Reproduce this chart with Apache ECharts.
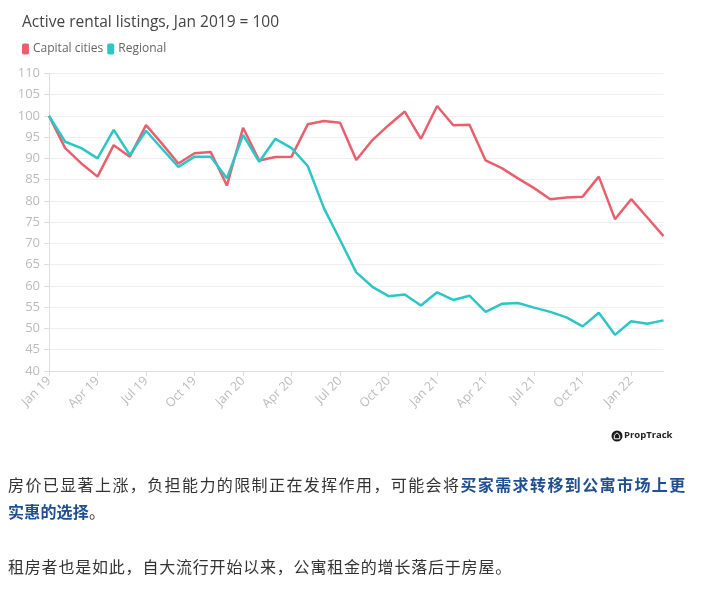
<!DOCTYPE html>
<html>
<head>
<meta charset="utf-8">
<script src="https://cdn.jsdelivr.net/npm/echarts@6/dist/echarts.min.js"></script>
<style>
html,body{margin:0;padding:0;background:#fff;width:708px;height:595px;overflow:hidden;}
#chart{position:absolute;left:0;top:0;width:708px;height:595px;}
.p{position:absolute;left:8px;font-family:"Noto Sans CJK SC",sans-serif;font-size:16px;letter-spacing:0.2px;color:#333;white-space:nowrap;line-height:27px;}
.hl{color:#1f4f8f;font-weight:bold;}
</style>
</head>
<body>
<div id="chart"></div>
<div class="p" style="top:471px;letter-spacing:1.4px;">房价已显著上涨，负担能力的限制正在发挥作用，可能会将<span class="hl">买家需求转移到公寓市场上更</span></div>
<div class="p" style="top:498px;"><span class="hl">实惠的选择</span>。</div>
<div class="p" style="top:553px;letter-spacing:0.8px;">租房者也是如此，自大流行开始以来，公寓租金的增长落后于房屋。</div>
<script>
const months = ["Jan 19","Feb 19","Mar 19","Apr 19","May 19","Jun 19","Jul 19","Aug 19","Sep 19","Oct 19","Nov 19","Dec 19",
"Jan 20","Feb 20","Mar 20","Apr 20","May 20","Jun 20","Jul 20","Aug 20","Sep 20","Oct 20","Nov 20","Dec 20",
"Jan 21","Feb 21","Mar 21","Apr 21","May 21","Jun 21","Jul 21","Aug 21","Sep 21","Oct 21","Nov 21","Dec 21",
"Jan 22","Feb 22","Mar 22"];
const capitalCities = [100,92.4,88.8,85.7,93.1,90.4,97.8,93.4,88.8,91.2,91.5,83.6,
97.2,89.5,90.3,90.4,98.0,98.8,98.4,89.6,94.3,97.8,101.0,94.6,
102.3,97.8,97.9,89.5,87.7,85.3,83.0,80.4,80.8,81.0,85.7,75.7,
80.4,76.1,71.7];
const regional = [100,93.9,92.4,90.0,96.7,90.8,96.5,92.2,88.0,90.4,90.4,85.3,
95.5,89.2,94.6,92.4,88.2,78.3,70.8,63.2,59.8,57.6,58.0,55.4,
58.5,56.7,57.7,53.9,55.8,56.0,54.9,53.9,52.6,50.5,53.7,48.5,
51.7,51.1,51.9];
const yTicks = {min:40, max:110, interval:5};
const labelFont = '"Open Sans", sans-serif';

const chart = echarts.init(document.getElementById('chart'), null, {renderer:'canvas'});
chart.setOption({
  animation:false,
  backgroundColor:'#fff',
  title:{text:'Active rental listings, Jan 2019 = 100', left:17, top:10,
    textStyle:{fontFamily:labelFont, fontSize:15.5, fontWeight:'normal', color:'#444'}},
  legend:{left:17, top:38, icon:'roundRect', itemWidth:7, itemHeight:11, itemGap:4,
    textStyle:{fontFamily:labelFont, fontSize:12, color:'#666', padding:[0,0,0,-1]},
    data:['Capital cities','Regional']},
  grid:{left:49, right:44.5, top:73.3, bottom:224, containLabel:false},
  xAxis:{type:'category', data:months, boundaryGap:false,
    axisLine:{lineStyle:{color:'#ddd'}},
    axisTick:{show:true, length:5, lineStyle:{color:'#ddd'}, interval:(i)=>i%3===0},
    axisLabel:{interval:(i)=>i%3===0, rotate:45, color:'#bbb', fontSize:12.5, fontFamily:labelFont, margin:8},
    splitLine:{show:false}},
  yAxis:{type:'value', min:yTicks.min, max:yTicks.max, interval:yTicks.interval,
    axisLine:{show:true, lineStyle:{color:'#ddd'}},
    axisTick:{show:true, length:5, lineStyle:{color:'#ddd'}},
    axisLabel:{color:'#bbb', fontSize:13, fontFamily:labelFont, margin:9},
    splitLine:{lineStyle:{color:'#eee'}}},
  series:[
    {name:'Capital cities', type:'line', data:capitalCities, showSymbol:false, symbol:'none',
      itemStyle:{color:'#e8606d'}, lineStyle:{width:2.5, color:'#e8606d'}, z:2},
    {name:'Regional', type:'line', data:regional, showSymbol:false, symbol:'none',
      itemStyle:{color:'#2cc6c6'}, lineStyle:{width:2.5, color:'#2cc6c6'}, z:3}
  ],
  graphic:[
    {type:'circle', shape:{cx:617, cy:436, r:5.5}, style:{fill:'#1a1a1a'}},
    {type:'polyline', shape:{points:[[614.3,438.8],[614.3,435.3],[617,432.8],[619.7,435.3],[619.7,438.8],[614.3,438.8]]},
      style:{stroke:'#fff', fill:null, lineWidth:1}},
    {type:'text', left:624, top:430, style:{text:'PropTrack', fontFamily:labelFont, fontSize:9.5, fontWeight:'bold', fill:'#222'}}
  ]
});
</script>
</body>
</html>
